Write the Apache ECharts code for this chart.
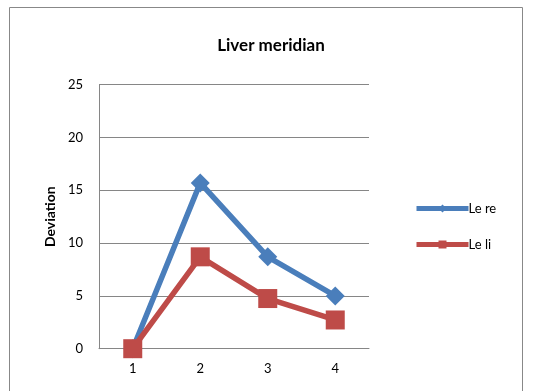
<!DOCTYPE html>
<html><head><meta charset="utf-8">
<script src="https://cdn.jsdelivr.net/npm/echarts@6/dist/echarts.min.js"></script>
<style>html,body{margin:0;padding:0;background:#fff}#c{width:539px;height:391px}</style>
</head><body><div id="c"></div>
<script>
const categories = ['1', '2', '3', '4'];
const leRe = [0, 15.7, 8.7, 5.0];
const leLi = [0, 8.7, 4.75, 2.72];
const seriesNames = ['Le re', 'Le li'];
const FONT = 'Lato, "Liberation Sans", sans-serif';
const chart = echarts.init(document.getElementById('c'), null, {renderer: 'canvas'});
chart.setOption({
  backgroundColor: '#fff',
  animation: false,
  textStyle: {fontFamily: FONT},
  title: {
    text: 'Liver meridian', left: 266, top: 32, textAlign: 'center',
    textStyle: {fontFamily: FONT, fontSize: 17, fontWeight: 'bold', color: '#000'}
  },
  graphic: [{
    type: 'rect', shape: {x: 9.5, y: 7.5, width: 513, height: 400},
    style: {fill: null, stroke: '#888', lineWidth: 1}, silent: true
  }],
  grid: {left: 99, right: 170, top: 84.7, bottom: 42.3, containLabel: false},
  legend: {
    orient: 'vertical', left: 409, top: 197, itemGap: 23, itemWidth: 52, itemHeight: 10,
    textStyle: {fontFamily: FONT, fontSize: 13, color: '#000', padding: [0, 0, 0, -5]},
    lineStyle: {width: 5},
    data: seriesNames
  },
  xAxis: {
    type: 'category', data: categories, boundaryGap: true,
    axisLine: {lineStyle: {color: '#868686', width: 1}},
    axisTick: {show: false},
    axisLabel: {fontFamily: FONT, fontSize: 13, color: '#000', margin: 14}
  },
  yAxis: {
    type: 'value', min: 0, max: 25, interval: 5,
    name: 'Deviation', nameLocation: 'middle', nameGap: 40, nameRotate: 90,
    nameTextStyle: {fontFamily: FONT, fontSize: 14, fontWeight: 'bold', color: '#000'},
    axisLine: {show: true, lineStyle: {color: '#868686', width: 1}},
    axisTick: {show: false},
    axisLabel: {fontFamily: FONT, fontSize: 13, color: '#000', margin: 16},
    splitLine: {lineStyle: {color: '#868686', width: 1}}
  },
  series: [{
    name: seriesNames[0], type: 'line', data: leRe,
    symbol: 'diamond', symbolSize: 19,
    lineStyle: {color: '#4A7EBB', width: 5.5},
    itemStyle: {color: '#4A7EBB'}
  }, {
    name: seriesNames[1], type: 'line', data: leLi,
    symbol: 'rect', symbolSize: 19,
    lineStyle: {color: '#BE4B48', width: 5.5},
    itemStyle: {color: '#BE4B48'}
  }]
});
</script></body></html>
